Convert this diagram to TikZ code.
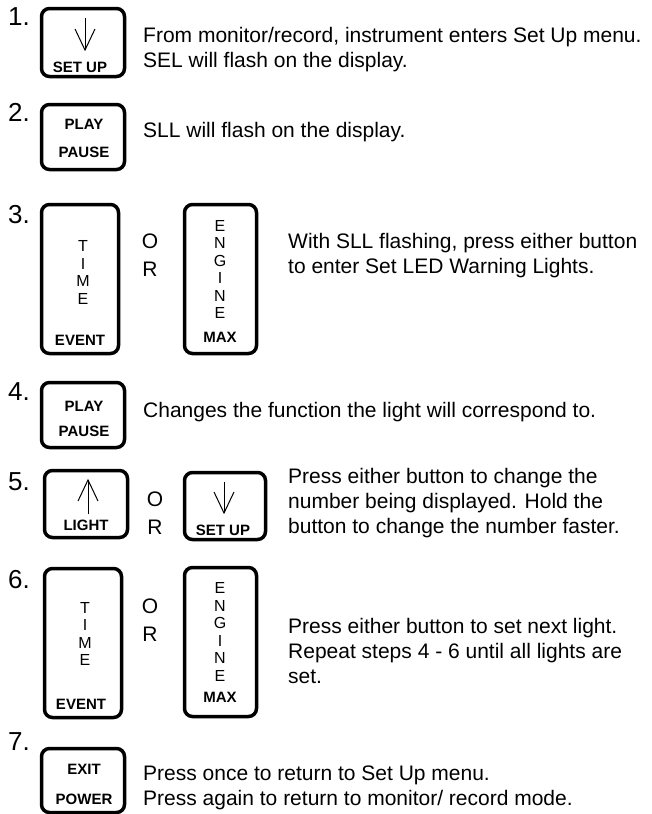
\documentclass[tikz,border=0pt]{standalone}
\usepackage{fontspec}
\setmainfont{Liberation Sans}
\tikzset{
  btn/.style={draw, line width=3.5pt, rounded corners=8pt, inner sep=0pt},
  keylbl/.style={font=\fontsize{15}{15}\selectfont\bfseries, inner sep=0pt},
  vtext/.style={font=\fontsize{16}{17.5}\selectfont, align=center, inner sep=0pt},
  steplbl/.style={font=\fontsize{26}{26}\selectfont, anchor=north west, inner sep=0pt},
  desc/.style={font=\fontsize{21}{25}\selectfont, anchor=north west, align=left, inner sep=0pt},
  orlbl/.style={font=\fontsize{21}{28}\selectfont, align=center, inner sep=0pt},
  glyph/.style={line width=1pt}
}
\begin{document}
\begin{tikzpicture}[x=1pt,y=-1pt]
\useasboundingbox (0,0) rectangle (651,814);
	% step numbers
	\node[steplbl] (n1) at (8,7) {1.};
	\node[steplbl] (n2) at (8,103) {2.};
	\node[steplbl] (n3) at (8,205) {3.};
	\node[steplbl] (n4) at (8,382) {4.};
	\node[steplbl] (n5) at (8,472) {5.};
	\node[steplbl] (n6) at (8,570) {6.};
	\node[steplbl] (n7) at (8,732) {7.};
% step 1
\node[btn, minimum width=83, minimum height=68] (b1) at (83,42.5) {};
\draw[glyph] (85,18) -- (85,50);
\draw[glyph] (75,29) -- (85,50) -- (95,29);
\node[keylbl] (k1) at (80,67) {SET UP};
\node[desc] (d1) at (143,27) {From monitor/record, instrument enters Set Up menu.\\SEL will flash on the display.};
% step 2
\node[btn, minimum width=83, minimum height=65] (b2) at (83,137) {};
\node[keylbl] (k2a) at (84,124) {PLAY};
\node[keylbl] (k2b) at (84,152) {PAUSE};
\node[desc] (d2) at (143,122) {SLL will flash on the display.};
% step 3
\node[btn, minimum width=77, minimum height=149] (b3a) at (80,279) {};
\node[vtext] (t3) at (83,272.5) {T\\I\\M\\E};
\node[keylbl] (k3a) at (80,340) {EVENT};
\node[orlbl] (o3) at (150,255) {O\\R};
\node[btn, minimum width=72, minimum height=149] (b3b) at (220.5,279) {};
\node[vtext] (e3) at (220,269.5) {E\\N\\G\\I\\N\\E};
\node[keylbl] (k3b) at (220,337) {MAX};
\node[desc] (d3) at (288,233) {With SLL flashing, press either button\\to enter Set LED Warning Lights.};
% step 4
\node[btn, minimum width=83, minimum height=65] (b4) at (83,415) {};
\node[keylbl] (k4a) at (84,406) {PLAY};
\node[keylbl] (k4b) at (84,431) {PAUSE};
\node[desc] (d4) at (143,402) {Changes the function the light will correspond to.};
% step 5
\node[btn, minimum width=83, minimum height=67] (b5a) at (86,504) {};
\draw[glyph] (88,514) -- (88,480);
\draw[glyph] (78,501) -- (88,480) -- (98,501);
\node[keylbl] (k5a) at (86,525) {LIGHT};
\node[orlbl] (o5) at (155,513) {O\\R};
\node[btn, minimum width=81, minimum height=67] (b5b) at (225,506) {};
\draw[glyph] (224,482) -- (224,513);
\draw[glyph] (214,492) -- (224,513) -- (234,492);
\node[keylbl] (k5b) at (223,530) {SET UP};
\node[desc] (d5) at (288,468) {Press either button to change the\\number being displayed. Hold the\\button to change the number faster.};
% step 6
\node[btn, minimum width=77, minimum height=149] (b6a) at (83,643) {};
\node[vtext] (t6) at (85,634) {T\\I\\M\\E};
\node[keylbl] (k6a) at (81,704) {EVENT};
\node[orlbl] (o6) at (150,620) {O\\R};
\node[btn, minimum width=72, minimum height=149] (b6b) at (220.5,642) {};
\node[vtext] (e6) at (220,632) {E\\N\\G\\I\\N\\E};
\node[keylbl] (k6b) at (220,697) {MAX};
\node[desc] (d6) at (288,618) {Press either button to set next light.\\Repeat steps 4 - 6 until all lights are\\set.};
% step 7
\node[btn, minimum width=83, minimum height=64] (b7) at (83,780.5) {};
\node[keylbl] (k7a) at (84,769) {EXIT};
\node[keylbl] (k7b) at (84,799) {POWER};
\node[desc] (d7) at (143,766) {Press once to return to Set Up menu.\\Press again to return to monitor/ record mode.};
\end{tikzpicture}
\end{document}
